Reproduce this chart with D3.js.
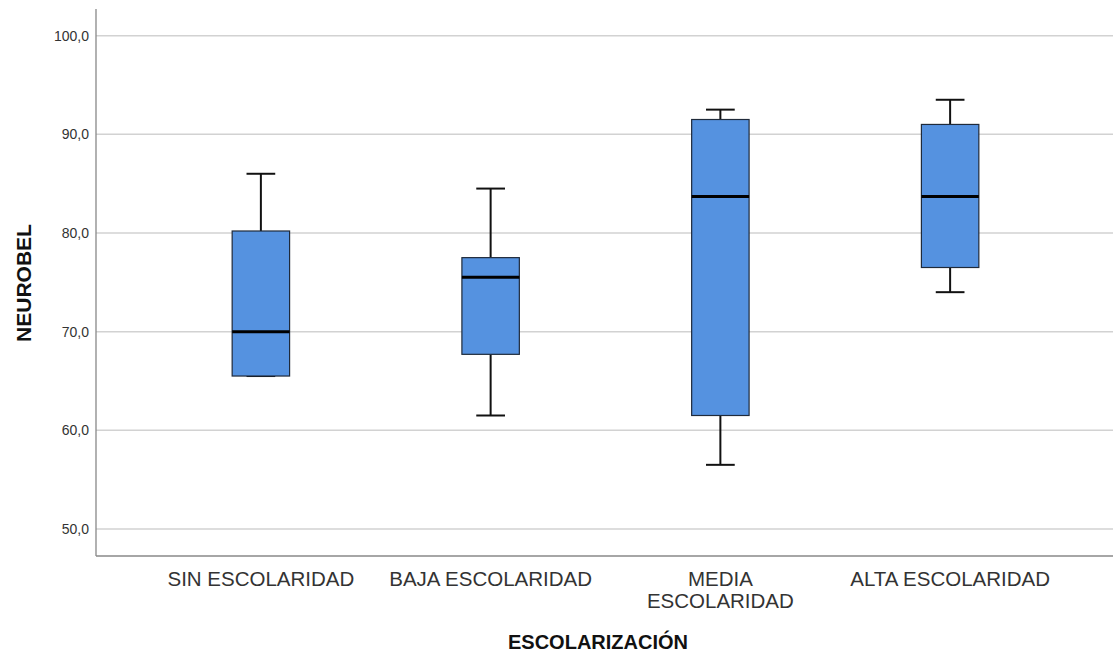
<!DOCTYPE html>
<html>
<head>
    <meta charset="utf-8">
    <script src="https://d3js.org/d3.v7.min.js"></script>
    <style>
        body { margin: 0; background: #fff; }
        text { font-family: "Liberation Sans", Arial, sans-serif; }
    </style>
</head>
<body>
<div id="chart"></div>
<script>
    // categories and box statistics
    var groups = ["SIN ESCOLARIDAD", "BAJA ESCOLARIDAD", "MEDIA ESCOLARIDAD", "ALTA ESCOLARIDAD"];
    var labelLines = [["SIN ESCOLARIDAD"], ["BAJA ESCOLARIDAD"], ["MEDIA", "ESCOLARIDAD"], ["ALTA ESCOLARIDAD"]];
    var lowWhisker = [65.5, 61.5, 56.5, 74.0];
    var q1 = [65.5, 67.7, 61.5, 76.5];
    var medians = [70.0, 75.5, 83.7, 83.7];
    var q3 = [80.2, 77.5, 91.5, 91.0];
    var highWhisker = [86.0, 84.5, 92.5, 93.5];
    var yTicks = [50, 60, 70, 80, 90, 100];

    var W = 1113, H = 653;
    var plotLeft = 96, plotTop = 9, plotBottom = 556, plotRight = 1113;

    var svg = d3.select("#chart").append("svg")
        .attr("width", W)
        .attr("height", H);

    var y = d3.scaleLinear()
        .domain([47.26, 102.7])
        .range([plotBottom, plotTop]);

    var x = d3.scaleBand()
        .domain(groups)
        .range([146, 1065])
        .padding(0);

    // gridlines
    svg.append("g")
        .selectAll("line")
        .data(yTicks)
        .enter()
        .append("line")
        .attr("x1", plotLeft)
        .attr("x2", plotRight)
        .attr("y1", function (d) { return y(d); })
        .attr("y2", function (d) { return y(d); })
        .attr("stroke", "#d2d2d2")
        .attr("stroke-width", 1.5);

    // y axis
    var yAxis = svg.append("g")
        .attr("transform", "translate(" + plotLeft + ",0)")
        .call(d3.axisLeft(y).tickValues(yTicks).tickSize(0).tickPadding(7)
            .tickFormat(function (d) { return d3.format(".1f")(d).replace(".", ","); }));
    yAxis.select(".domain").remove();
    yAxis.selectAll("text")
        .attr("font-size", "14px")
        .attr("font-family", "'Liberation Sans', Arial, sans-serif")
        .attr("fill", "#333");

    // axis frame lines
    svg.append("line")
        .attr("x1", plotLeft).attr("x2", plotLeft)
        .attr("y1", plotTop).attr("y2", plotBottom)
        .attr("stroke", "#888").attr("stroke-width", 1.3);
    svg.append("line")
        .attr("x1", plotLeft).attr("x2", plotRight)
        .attr("y1", plotBottom).attr("y2", plotBottom)
        .attr("stroke", "#888").attr("stroke-width", 1.3);

    // boxes
    var data = groups.map(function (g, i) {
        return { group: g, lo: lowWhisker[i], q1: q1[i], med: medians[i], q3: q3[i], hi: highWhisker[i] };
    });
    var boxW = x.bandwidth() * 0.25;
    var capW = boxW * 0.5;

    var box = svg.append("g").selectAll("g")
        .data(data)
        .enter()
        .append("g")
        .attr("transform", function (d) { return "translate(" + (x(d.group) + x.bandwidth() / 2) + ",0)"; });

    // whiskers
    box.append("line")
        .attr("x1", 0).attr("x2", 0)
        .attr("y1", function (d) { return y(d.hi); })
        .attr("y2", function (d) { return y(d.q3); })
        .attr("stroke", "#111").attr("stroke-width", 2);
    box.append("line")
        .attr("x1", 0).attr("x2", 0)
        .attr("y1", function (d) { return y(d.q1); })
        .attr("y2", function (d) { return y(d.lo); })
        .attr("stroke", "#111").attr("stroke-width", 2);
    box.append("line")
        .attr("x1", -capW / 2).attr("x2", capW / 2)
        .attr("y1", function (d) { return y(d.hi); })
        .attr("y2", function (d) { return y(d.hi); })
        .attr("stroke", "#111").attr("stroke-width", 2);
    box.append("line")
        .attr("x1", -capW / 2).attr("x2", capW / 2)
        .attr("y1", function (d) { return y(d.lo); })
        .attr("y2", function (d) { return y(d.lo); })
        .attr("stroke", "#111").attr("stroke-width", 2);

    box.append("rect")
        .attr("x", -boxW / 2)
        .attr("width", boxW)
        .attr("y", function (d) { return y(d.q3); })
        .attr("height", function (d) { return y(d.q1) - y(d.q3); })
        .attr("fill", "#5592e0")
        .attr("stroke", "#1f2a3a")
        .attr("stroke-width", 1.2);

    box.append("line")
        .attr("x1", -boxW / 2).attr("x2", boxW / 2)
        .attr("y1", function (d) { return y(d.med); })
        .attr("y2", function (d) { return y(d.med); })
        .attr("stroke", "#000").attr("stroke-width", 3);

    // x tick labels
    var lbl = svg.append("g").selectAll("text")
        .data(groups)
        .enter()
        .append("text")
        .attr("x", function (d) { return x(d) + x.bandwidth() / 2; })
        .attr("y", 586)
        .attr("text-anchor", "middle")
        .attr("font-size", "20.5px")
        .attr("fill", "#333");
    lbl.each(function (d, i) {
        var t = d3.select(this);
        labelLines[i].forEach(function (line, k) {
            t.append("tspan")
                .attr("x", x(d) + x.bandwidth() / 2)
                .attr("dy", k === 0 ? 0 : 22)
                .text(line);
        });
    });

    // axis titles
    svg.append("text")
        .attr("x", 598)
        .attr("y", 649)
        .attr("text-anchor", "middle")
        .attr("font-size", "20px")
        .attr("font-weight", "bold")
        .attr("fill", "#111")
        .text("ESCOLARIZACIÓN");

    svg.append("text")
        .attr("transform", "translate(31,283) rotate(-90)")
        .attr("text-anchor", "middle")
        .attr("font-size", "21px")
        .attr("font-weight", "bold")
        .attr("fill", "#111")
        .text("NEUROBEL");
</script>
</body>
</html>
